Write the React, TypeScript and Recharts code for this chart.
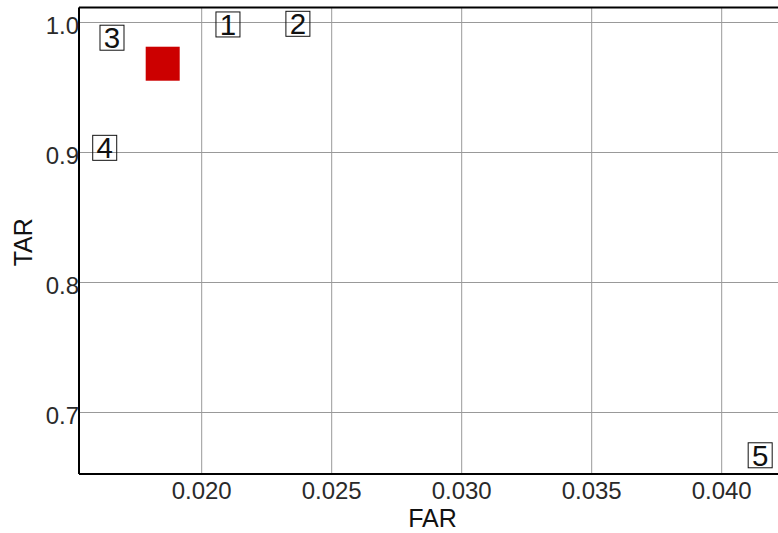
import React from "react";
import {
  ScatterChart,
  Scatter,
  XAxis,
  YAxis,
  CartesianGrid,
  ReferenceLine,
} from "recharts";

const labels = ["1", "2", "3", "4", "5"];
const farValues = [0.02101, 0.0237, 0.01655, 0.01627, 0.04148];
const tarValues = [0.9985, 0.999, 0.9883, 0.9036, 0.6671];

const markerFar = [0.0185];
const markerTar = [0.9683];

const xTicks = [0.02, 0.025, 0.03, 0.035, 0.04];
const yTicks = [0.7, 0.8, 0.9, 1.0];
const xDomain = [0.015281, 0.042473];
const yDomain = [0.6527, 1.01154];

const labeledPoints = labels.map((l, i) => ({
  far: farValues[i],
  tar: tarValues[i],
  label: l,
}));
const markerPoints = markerFar.map((f, i) => ({ far: f, tar: markerTar[i] }));

const FONT = "'Liberation Sans', Arial, sans-serif";

const BoxLabel = (props: any) => {
  const { cx, cy, payload } = props;
  if (cx == null || cy == null) return null;
  const w = 24;
  const h = 25;
  return (
    <g>
      <rect
        x={cx - w / 2}
        y={cy - h / 2}
        width={w}
        height={h}
        fill="none"
        stroke="#111"
        strokeWidth={1}
      />
      <text
        x={cx}
        y={cy + 10.5}
        textAnchor="middle"
        fontFamily={FONT}
        fontSize={29.5}
        fill="#111"
      >
        {payload.label}
      </text>
    </g>
  );
};

const RedSquare = (props: any) => {
  const { cx, cy } = props;
  if (cx == null || cy == null) return null;
  const s = 34;
  return <rect x={cx - s / 2} y={cy - s / 2} width={s} height={s} fill="#cc0000" />;
};

const YLabel = (props: any) => {
  const vb = props.viewBox || {};
  const x = (vb.x || 0) + 31.7;
  const y = (vb.y || 0) + (vb.height || 0) / 2 + 1.5;
  return (
    <text
      x={x}
      y={y}
      transform={`rotate(-90, ${x}, ${y})`}
      textAnchor="middle"
      fontFamily={FONT}
      fontSize={25}
      fill="#111"
    >
      TAR
    </text>
  );
};

export default function App() {
  return (
    <div
      style={{
        position: "absolute",
        left: 0,
        top: 0,
        width: 778,
        height: 533,
        overflow: "hidden",
        background: "#fff",
      }}
    >
      <ScatterChart
        width={790}
        height={533}
        margin={{ top: 7.5, right: 4, left: 0, bottom: 0 }}
      >
        <CartesianGrid stroke="#999" strokeWidth={1} />
        <XAxis
          type="number"
          dataKey="far"
          domain={xDomain}
          ticks={xTicks}
          allowDataOverflow
          interval={0}
          height={59}
          tickLine={false}
          tickFormatter={(v: number) => v.toFixed(3)}
          tick={{ fontFamily: FONT, fontSize: 24, fill: "#2a2a2a" }}
          axisLine={{ stroke: "#000", strokeWidth: 2 }}
          label={{
            value: "FAR",
            position: "insideBottom",
            offset: 6,
            fontFamily: FONT,
            fontSize: 25,
            fill: "#111",
          }}
        />
        <YAxis
          type="number"
          dataKey="tar"
          domain={yDomain}
          ticks={yTicks}
          allowDataOverflow
          interval={0}
          width={79}
          tickLine={false}
          tickSize={0}
          tickMargin={0}
          tickFormatter={(v: number) => v.toFixed(1)}
          tick={{ fontFamily: FONT, fontSize: 24, fill: "#2a2a2a", dy: 3 }}
          axisLine={{ stroke: "#000", strokeWidth: 2 }}
          label={<YLabel />}
        />
        <ReferenceLine y={yDomain[1]} stroke="#000" strokeWidth={2} ifOverflow="visible" />
        <Scatter
          data={markerPoints}
          shape={<RedSquare />}
          isAnimationActive={false}
        />
        <Scatter
          data={labeledPoints}
          shape={<BoxLabel />}
          isAnimationActive={false}
        />
      </ScatterChart>
    </div>
  );
}
